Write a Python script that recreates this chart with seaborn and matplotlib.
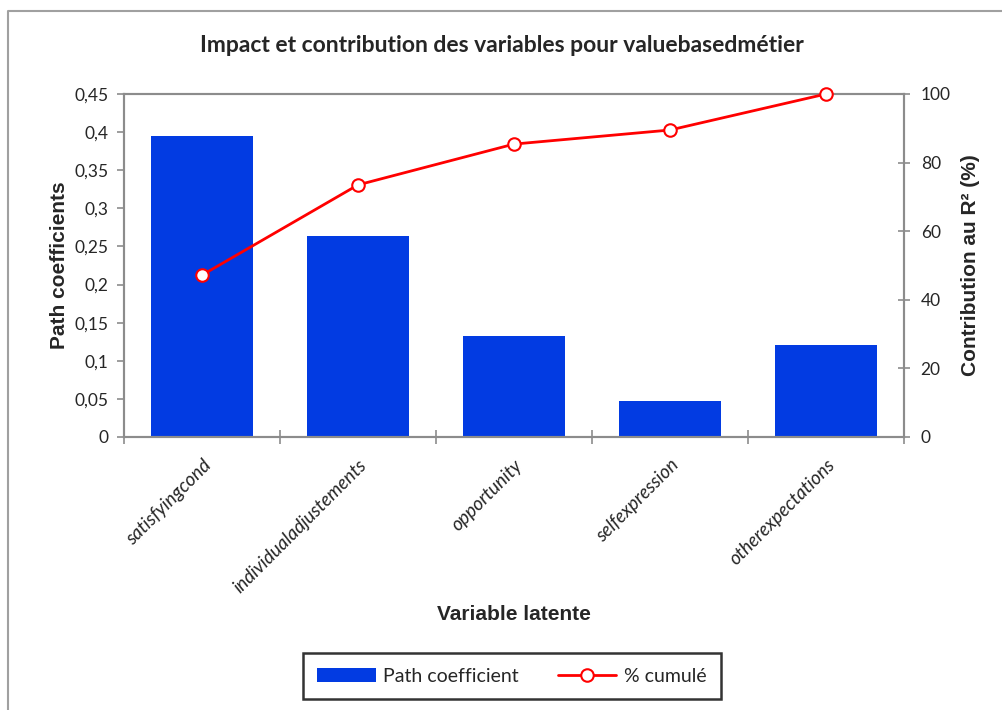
import matplotlib
matplotlib.use("Agg")
import matplotlib.pyplot as plt
from matplotlib.lines import Line2D
from matplotlib.patches import Patch
from matplotlib.ticker import FuncFormatter, FixedLocator
import seaborn as sns
import pandas as pd

# Latent variables, their path coefficients and the cumulative share of R²
categories = ["satisfyingcond", "individualadjustements", "opportunity",
              "selfexpression", "otherexpectations"]
path_coef = [0.395, 0.264, 0.1325, 0.047, 0.121]
cumul_pct = [47.2, 73.5, 85.4, 89.5, 100.0]
left_ticks = [0, 0.05, 0.1, 0.15, 0.2, 0.25, 0.3, 0.35, 0.4, 0.45]
right_ticks = [0, 20, 40, 60, 80, 100]

title = "Impact et contribution des variables pour valuebasedmétier"
xlabel = "Variable latente"
ylabel_left = "Path coefficients"
ylabel_right = "Contribution au R² (%)"
legend_labels = ["Path coefficient", "% cumulé"]

sns.set_theme(style="white")
plt.rcParams["font.family"] = ["Lato", "DejaVu Sans"]

BAR = "#023BE2"
RED = "#FF0000"
AXC = "#8C8C8C"
ARIAL = ["Liberation Sans", "DejaVu Sans"]

fig = plt.figure(figsize=(10.03, 7.10), dpi=100)
ax = fig.add_axes([124 / 1003, 1 - 437 / 710, 780 / 1003, 343 / 710])

df = pd.DataFrame({"cat": categories, "coef": path_coef})
sns.barplot(data=df, x="cat", y="coef", color=BAR, saturation=1,
            width=0.66, ax=ax, linewidth=0)
ax.set_xlim(-0.5, len(categories) - 0.5)
ax.set_ylim(0, 0.45)

ax2 = ax.twinx()
ax2.plot(range(len(categories)), cumul_pct, color=RED, lw=2,
         marker="o", markersize=9, markerfacecolor="white",
         markeredgecolor=RED, markeredgewidth=1.5, zorder=5, clip_on=False)
ax2.set_ylim(0, 100)

# grey frame around the plot area
for a in (ax, ax2):
    for s in a.spines.values():
        s.set_color(AXC)
        s.set_linewidth(1.5)
        s.set_visible(True)

# left axis
ax.yaxis.set_major_locator(FixedLocator(left_ticks))
ax.yaxis.set_major_formatter(FuncFormatter(lambda v, p: f"{v:g}".replace(".", ",")))
ax.tick_params(axis="y", which="major", direction="out", length=5, width=1.2,
               color=AXC, labelsize=12.5, pad=6, left=True)

# right axis
ax2.yaxis.set_major_locator(FixedLocator(right_ticks))
ax2.tick_params(axis="y", direction="inout", length=8, width=1.2, color=AXC,
                labelsize=12.5, pad=8, right=True)

# x axis: labels at category centers, ticks on category boundaries
ax.set_xticks(range(len(categories)))
ax.set_xticklabels(categories, rotation=45, ha="right", rotation_mode="anchor",
                   fontstyle="italic", fontsize=13.5)
ax.tick_params(axis="x", which="major", length=0, pad=14)
ax.set_xticks([i - 0.5 for i in range(len(categories) + 1)], minor=True)
ax.tick_params(axis="x", which="minor", direction="inout", length=10,
               width=1.2, color=AXC, bottom=True)

ax.set_xlabel(xlabel, fontsize=15, fontweight="bold", family=ARIAL)
ax.xaxis.set_label_coords(0.5, -0.49)
ax.set_ylabel(ylabel_left, fontsize=15, fontweight="bold", family=ARIAL)
ax.yaxis.set_label_coords(-0.07, 0.5)
ax2.set_ylabel(ylabel_right, fontsize=15, fontweight="bold", family=ARIAL)
ax2.yaxis.set_label_coords(1.073, 0.5)

fig.text(0.5, 1 - 46 / 710, title, ha="center", va="center",
         fontsize=16.5, fontweight="bold")

# legend
handles = [Patch(facecolor=BAR, edgecolor="none"),
           Line2D([], [], color=RED, lw=2, marker="o", markersize=9,
                  markerfacecolor="white", markeredgecolor=RED,
                  markeredgewidth=1.5)]
leg = fig.legend(handles, legend_labels, loc="center",
                 bbox_to_anchor=(512 / 1003, 1 - 676 / 710), ncol=2,
                 frameon=True, fancybox=False, fontsize=14,
                 handlelength=3.0, handleheight=0.7, columnspacing=2.0,
                 borderpad=0.75, handletextpad=0.4, borderaxespad=0)
leg.get_frame().set_edgecolor("black")
leg.get_frame().set_linewidth(1.8)

# outer chart border (top and left edges)
fig.add_artist(Line2D([8 / 1003, 8 / 1003, 1.0], [0.0, 1 - 11 / 710, 1 - 11 / 710],
                      transform=fig.transFigure, color="#A0A0A0", lw=1.5))

fig.savefig("out.png", dpi=100, facecolor="white")
